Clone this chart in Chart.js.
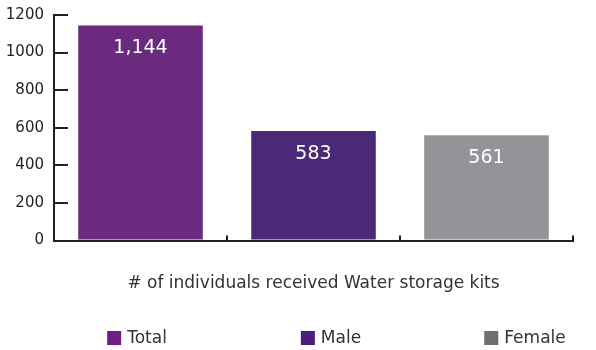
<!DOCTYPE html>
<html>
<head>
<meta charset="utf-8">
<script src="https://cdn.jsdelivr.net/npm/chart.js@4/dist/chart.umd.min.js"></script>
<style>
  html, body { margin: 0; padding: 0; background: #fff; }
  #wrap { width: 596px; height: 350px; }
</style>
</head>
<body>
<div id="wrap"><canvas id="kitsChart"></canvas></div>
<script>
// Values
const categories = ['Total', 'Male', 'Female'];
const kitCounts = [1144, 583, 561];
const yTicks = [0, 200, 400, 600, 800, 1000, 1200];
const barColors = ['#6a2a7d', '#4a2a77', '#939497'];
const legendColors = ['#6e1f84', '#4b1e7e', '#6d6e71'];
const axisTitle = '# of individuals received Water storage kits';

const FONT = "'DejaVu Sans', sans-serif";

// value labels sit a little below the top of each bar
const valueLabels = {
  id: 'valueLabels',
  afterDatasetsDraw(chart) {
    const ctx = chart.ctx;
    const meta = chart.getDatasetMeta(0);
    ctx.save();
    ctx.fillStyle = '#ffffff';
    ctx.font = '19px ' + FONT;
    ctx.textAlign = 'center';
    ctx.textBaseline = 'middle';
    meta.data.forEach((bar, i) => {
      ctx.fillText(kitCounts[i].toLocaleString('en-US'), bar.x, bar.y + 23);
    });
    ctx.restore();
  }
};

// legend: one evenly spaced slot per category along the bottom
const slotLegend = {
  id: 'slotLegend',
  afterDraw(chart) {
    const ctx = chart.ctx;
    const centers = [137, 331, 525];
    const y = 338;
    ctx.save();
    ctx.font = '17px ' + FONT;
    ctx.textBaseline = 'middle';
    categories.forEach((c, i) => {
      const tw = ctx.measureText(c).width;
      const w = 14 + 6 + tw;
      const x0 = centers[i] - w / 2;
      ctx.fillStyle = legendColors[i];
      ctx.fillRect(x0, y - 7, 14, 14);
      ctx.fillStyle = '#333333';
      ctx.fillText(c, x0 + 20, y + 1);
    });
    ctx.restore();
  }
};

const ctx = document.getElementById('kitsChart').getContext('2d');
const kitsChart = new Chart(ctx, {
  type: 'bar',
  data: {
    labels: categories,
    datasets: [{
      data: kitCounts,
      backgroundColor: barColors,
      barPercentage: 0.72,
      categoryPercentage: 1
    }]
  },
  options: {
    responsive: true,
    maintainAspectRatio: false,
    animation: false,
    layout: { padding: { left: 6, right: 23, top: 15, bottom: 56 } },
    plugins: {
      tooltip: { enabled: false },
      legend: { display: false }
    },
    scales: {
      x: {
        grid: {
          drawOnChartArea: false,
          drawTicks: true,
          tickLength: -5,
          lineWidth: 2,
          color: '#231f20'
        },
        border: { color: '#231f20', width: 2 },
        ticks: { display: false },
        title: {
          display: true,
          text: axisTitle,
          color: '#333333',
          font: { family: FONT, size: 17 },
          padding: { top: 38, bottom: 0 }
        }
      },
      y: {
        min: yTicks[0],
        max: yTicks[yTicks.length - 1],
        grid: {
          drawOnChartArea: false,
          drawTicks: true,
          tickLength: -14,
          lineWidth: 2,
          color: '#231f20'
        },
        border: { color: '#231f20', width: 2 },
        afterBuildTicks: (scale) => { scale.ticks = yTicks.map(v => ({ value: v })); },
        afterFit: (scale) => {
          scale.width = 48;
          scale.paddingTop = 0;
          scale.paddingBottom = 0;
        },
        ticks: {
          padding: 24,
          color: '#231f20',
          font: { family: FONT, size: 15 },
          callback: (v) => String(v)
        }
      }
    }
  },
  plugins: [valueLabels, slotLegend]
});
</script>
</body>
</html>
